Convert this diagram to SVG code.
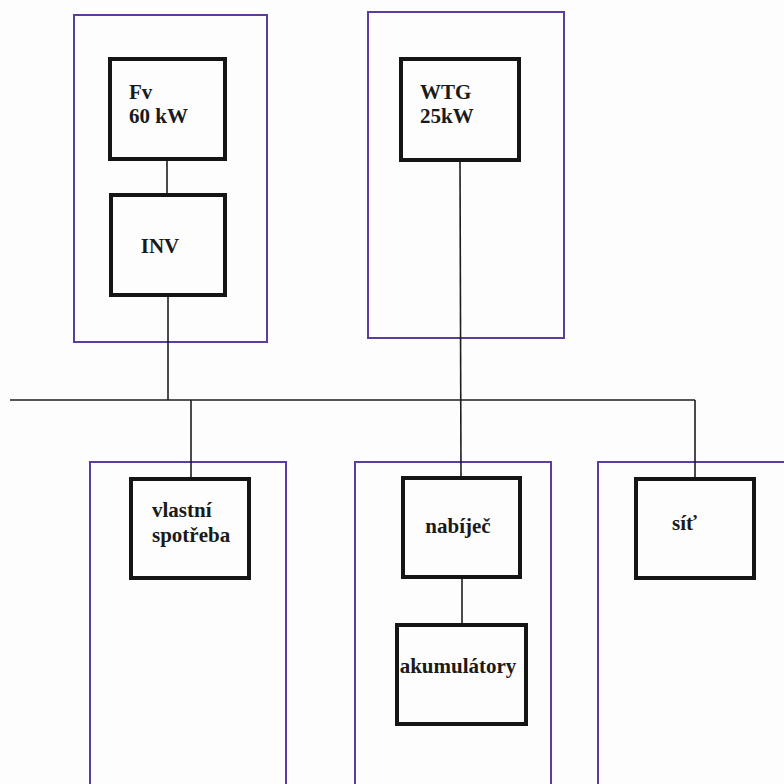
<svg xmlns="http://www.w3.org/2000/svg" width="784" height="784" viewBox="0 0 784 784">
  <style>
    .zone { fill: none; stroke: #5a3d9c; stroke-width: 2; }
    .box { fill: #fdfdfd; stroke: #151515; stroke-width: 4; }
    .wire { fill: none; stroke: #1e1e1e; stroke-width: 1.6; }
    .lbl { font-family: "Liberation Serif", "Times New Roman", serif; font-weight: bold; font-size: 21px; fill: #1a1a1a; }
  </style>
  <rect width="784" height="784" fill="#fdfdfd"/>

  <!-- enclosure outlines -->
  <g id="zones">
    <rect class="zone" x="74" y="15" width="193" height="327"/>
    <rect class="zone" x="368" y="12" width="196" height="326"/>
    <rect class="zone" x="90" y="462" width="196" height="340"/>
    <rect class="zone" x="355" y="462" width="196" height="340"/>
    <rect class="zone" x="598" y="462" width="200" height="340"/>
  </g>

  <!-- connections -->
  <g id="connectors">
    <line class="wire" x1="10" y1="400" x2="695" y2="400"/>
    <line class="wire" x1="167" y1="161" x2="167" y2="193"/>
    <line class="wire" x1="168" y1="297" x2="168" y2="400"/>
    <line class="wire" x1="191" y1="400" x2="191" y2="477"/>
    <line class="wire" x1="460" y1="162" x2="461" y2="476"/>
    <line class="wire" x1="462" y1="579" x2="462" y2="623"/>
    <line class="wire" x1="695" y1="400" x2="695" y2="477"/>
  </g>

  <g id="fv">
    <rect class="box" x="110" y="59" width="115" height="100"/>
    <text class="lbl" x="129" y="99">Fv</text>
    <text class="lbl" x="129" y="123">60 kW</text>
  </g>
  <g id="inv">
    <rect class="box" x="111" y="195" width="114" height="100"/>
    <text class="lbl" x="160" y="253" text-anchor="middle">INV</text>
  </g>
  <g id="wtg">
    <rect class="box" x="401" y="59" width="118" height="101"/>
    <text class="lbl" x="420" y="99">WTG</text>
    <text class="lbl" x="420" y="123">25kW</text>
  </g>
  <g id="vlastni-spotreba">
    <rect class="box" x="131" y="479" width="118" height="99"/>
    <text class="lbl" x="152" y="517">vlastní</text>
    <text class="lbl" x="152" y="542">spotřeba</text>
  </g>
  <g id="nabijec">
    <rect class="box" x="403" y="478" width="117" height="99"/>
    <text class="lbl" x="458" y="533" text-anchor="middle">nabíječ</text>
  </g>
  <g id="akumulatory">
    <rect class="box" x="397" y="625" width="129" height="99"/>
    <text class="lbl" x="458" y="673" text-anchor="middle">akumulátory</text>
  </g>
  <g id="sit">
    <rect class="box" x="636" y="479" width="118" height="99"/>
    <text class="lbl" x="672" y="530">síť</text>
  </g>
</svg>
